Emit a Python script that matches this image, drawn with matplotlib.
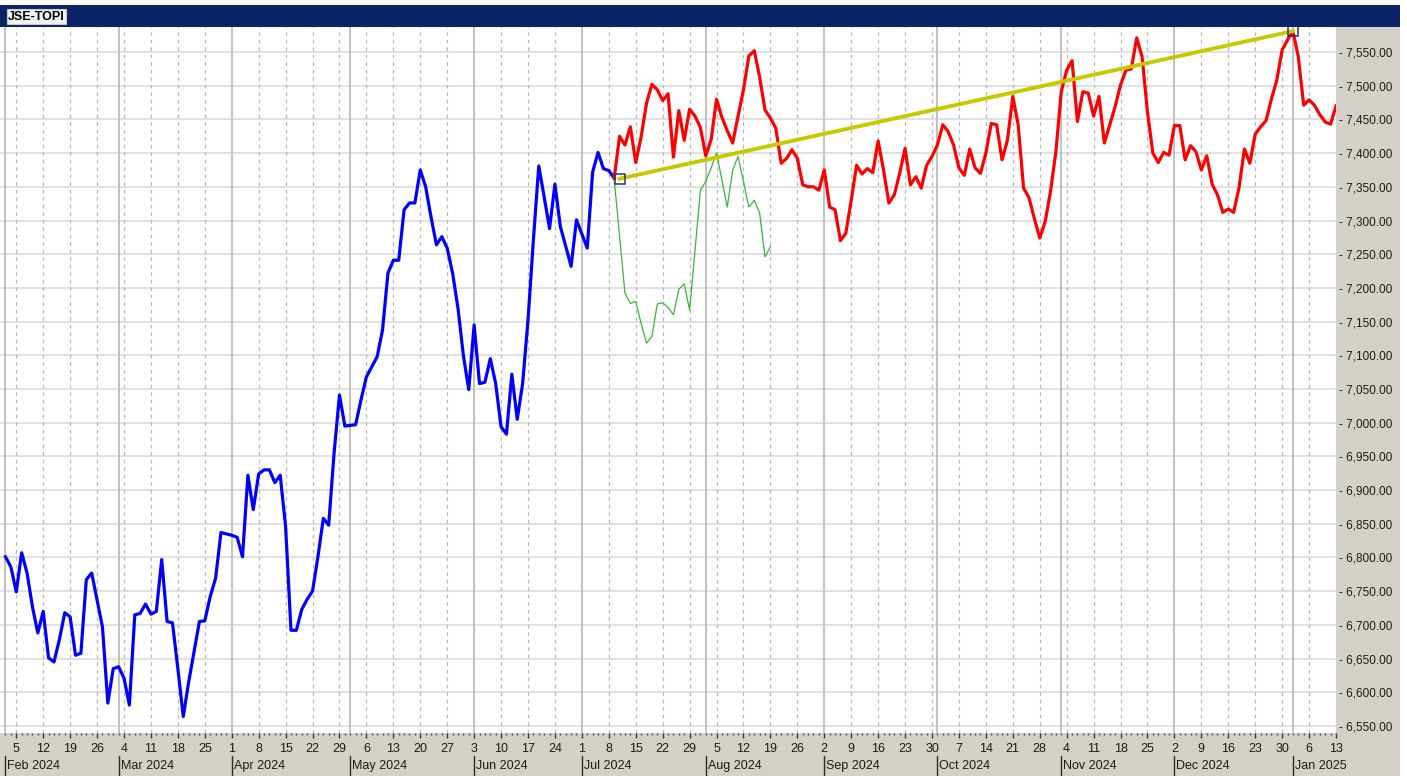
import numpy as np
import pandas as pd
import matplotlib
matplotlib.use("Agg")
from matplotlib import pyplot as plt
from matplotlib.patches import Rectangle
from matplotlib import transforms

plt.rcParams["font.family"] = ["Liberation Sans", "DejaVu Sans"]

# One x step per weekday, Feb 1 2024 .. Jan 13 2025
dates = pd.bdate_range("2024-02-01", "2025-01-13")

title = "JSE-TOPI"

# Blue: index history up to the pivot
blue_start = 0
blue_vals = [
    6801, 6786, 6749, 6807, 6777, 6727, 6688, 6720, 6651, 6645,
    6678, 6718, 6712, 6655, 6658, 6767, 6777, 6737, 6697, 6584,
    6635, 6638, 6621, 6581, 6715, 6717, 6731, 6716, 6720, 6797,
    6705, 6703, 6635, 6564, 6615, 6660, 6705, 6706, 6742, 6769,
    6837, 6835, 6833, 6830, 6801, 6922, 6871, 6924, 6930, 6930,
    6911, 6922, 6846, 6692, 6692, 6723, 6738, 6750, 6801, 6858,
    6848, 6955, 7041, 6995, 6996, 6997, 7034, 7068, 7083, 7098,
    7138, 7222, 7241, 7241, 7316, 7326, 7326, 7375, 7350, 7305,
    7264, 7276, 7259, 7222, 7170, 7100, 7049, 7145, 7058, 7060,
    7095, 7058, 6994, 6983, 7072, 7005, 7058, 7152, 7271, 7381,
    7335, 7288, 7354, 7291, 7262, 7232, 7301, 7280, 7259, 7372,
    7401, 7377, 7374, 7363,
]

# Red: actual path after the pivot
red_start = 113
red_vals = [
    7363, 7425, 7412, 7439, 7386, 7424, 7474, 7502, 7494, 7478,
    7488, 7394, 7463, 7419, 7465, 7455, 7438, 7396, 7420, 7480,
    7453, 7433, 7415, 7455, 7494, 7544, 7552, 7513, 7464, 7452,
    7437, 7385, 7392, 7405, 7392, 7353, 7350, 7350, 7345, 7375,
    7320, 7316, 7270, 7281, 7330, 7382, 7369, 7377, 7371, 7418,
    7375, 7326, 7338, 7370, 7407, 7353, 7365, 7348, 7382, 7395,
    7412, 7442, 7432, 7412, 7378, 7367, 7406, 7378, 7370, 7400,
    7444, 7442, 7390, 7419, 7484, 7442, 7348, 7334, 7303, 7274,
    7298, 7343, 7402, 7491, 7523, 7537, 7447, 7491, 7489, 7455,
    7484, 7415, 7442, 7469, 7501, 7523, 7525, 7571, 7543, 7461,
    7400, 7386, 7401, 7397, 7441, 7441, 7390, 7411, 7402, 7375,
    7396, 7354, 7338, 7312, 7317, 7312, 7349, 7406, 7385, 7428,
    7439, 7448, 7480, 7508, 7553, 7568, 7581, 7543, 7471, 7479,
    7471, 7457, 7446, 7443, 7470,
]

# Green: thin comparison path
green_start = 113
green_vals = [
    7361, 7277, 7192, 7177, 7180, 7147, 7118, 7128, 7176, 7178,
    7171, 7160, 7198, 7206, 7167, 7255, 7345, 7358, 7378, 7400,
    7360, 7320, 7375, 7395, 7358, 7320, 7330, 7311, 7246, 7261,
]

# Trend line between two anchors
trend_idx = [114, 239]
trend_vals = [7362, 7581]

y_ticks = list(range(6550, 7551, 50))

W, H = 1407, 776
fig = plt.figure(figsize=(W / 100, H / 100), dpi=100, facecolor="#d4d0c8")


def px_rect(x0, y0, x1, y1, color, z=-1):
    fig.patches.append(Rectangle((x0 / W, 1 - y1 / H), (x1 - x0) / W, (y1 - y0) / H,
                                 transform=fig.transFigure, facecolor=color,
                                 edgecolor="none", zorder=z))


# frame pieces
px_rect(0, 0, W, 5, "white")
px_rect(1400, 0, W, H, "white")
px_rect(0, 5, 1400, 27, "#0b2468")
fig.text(8 / W, 1 - 16.5 / H, title, fontsize=9, fontweight="bold", color="black",
         va="center", ha="left",
         bbox=dict(boxstyle="square,pad=0.12", facecolor="#f2f2f2", edgecolor="#c8c8c8", lw=0.8))

ax = fig.add_axes([0, (H - 733) / H, 1336 / W, (733 - 27) / H])
ax.set_facecolor("white")
for s in ax.spines.values():
    s.set_visible(False)

mondays = [i for i, d in enumerate(dates) if d.weekday() == 0]
month_starts = [i for i, d in enumerate(dates) if i == 0 or d.month != dates[i - 1].month]

# grid
for v in y_ticks:
    ax.axhline(v, color="#dcdcdc", lw=1.2, zorder=1)
for i in mondays:
    if i not in month_starts:
        ax.axvline(i, color="#b8b8b8", lw=0.9, ls=(0, (3, 3)), zorder=1)
for i in month_starts:
    ax.axvline(i, color="#bcbcbc", lw=1.3, zorder=1)

# series
ax.plot(np.arange(len(green_vals)) + green_start, green_vals, color="#3cb43c", lw=0.9, zorder=3)
ax.plot(np.arange(len(blue_vals)) + blue_start, blue_vals, color="#0000ff", lw=2.3,
        solid_joinstyle="round", zorder=4)
ax.plot(np.arange(len(red_vals)) + red_start, red_vals, color="#ff0000", lw=2.3,
        solid_joinstyle="round", zorder=4)
ax.plot(trend_idx, trend_vals, color="#c8c800", lw=2.8, zorder=5)
ax.plot(trend_idx, trend_vals, "s", mfc="none", mec="#27356e", ms=6.5, mew=1.1, zorder=6)

# right value axis
ax.yaxis.tick_right()
ax.set_yticks(y_ticks)
ax.set_yticklabels(["- {:,.2f}".format(v) for v in y_ticks])
ax.tick_params(axis="y", length=0, pad=2.5, labelsize=8.5, labelcolor="#1a1a1a")

# bottom day ruler
ax.set_xticks(mondays)
ax.set_xticklabels([str(dates[i].day) for i in mondays])
ax.set_xticks(range(len(dates)), minor=True)
ax.tick_params(axis="x", which="major", length=3.8, width=1, color="#3a3a3a",
               pad=3.5, labelsize=9, labelcolor="#1a1a1a")
ax.tick_params(axis="x", which="minor", length=1.6, width=1, color="#555555")

# month labels with separators
blend = transforms.blended_transform_factory(ax.transData, fig.transFigure)
shifted = transforms.offset_copy(blend, fig=fig, x=2, y=0, units="dots")
for i in month_starts:
    ax.plot([i, i], [1 - 756 / H, 1 - 775 / H], transform=blend, color="#2a2a2a",
            lw=1, clip_on=False)
    ax.text(i, 1 - 766 / H, dates[i].strftime("%b %Y"), transform=shifted,
            fontsize=9, color="#1a1a1a", ha="left", va="center", clip_on=False)

ax.set_xlim(-1.02, 247)
ax.set_ylim(6539.6, 7587.1)

fig.savefig("out.png", dpi=100, facecolor=fig.get_facecolor())
